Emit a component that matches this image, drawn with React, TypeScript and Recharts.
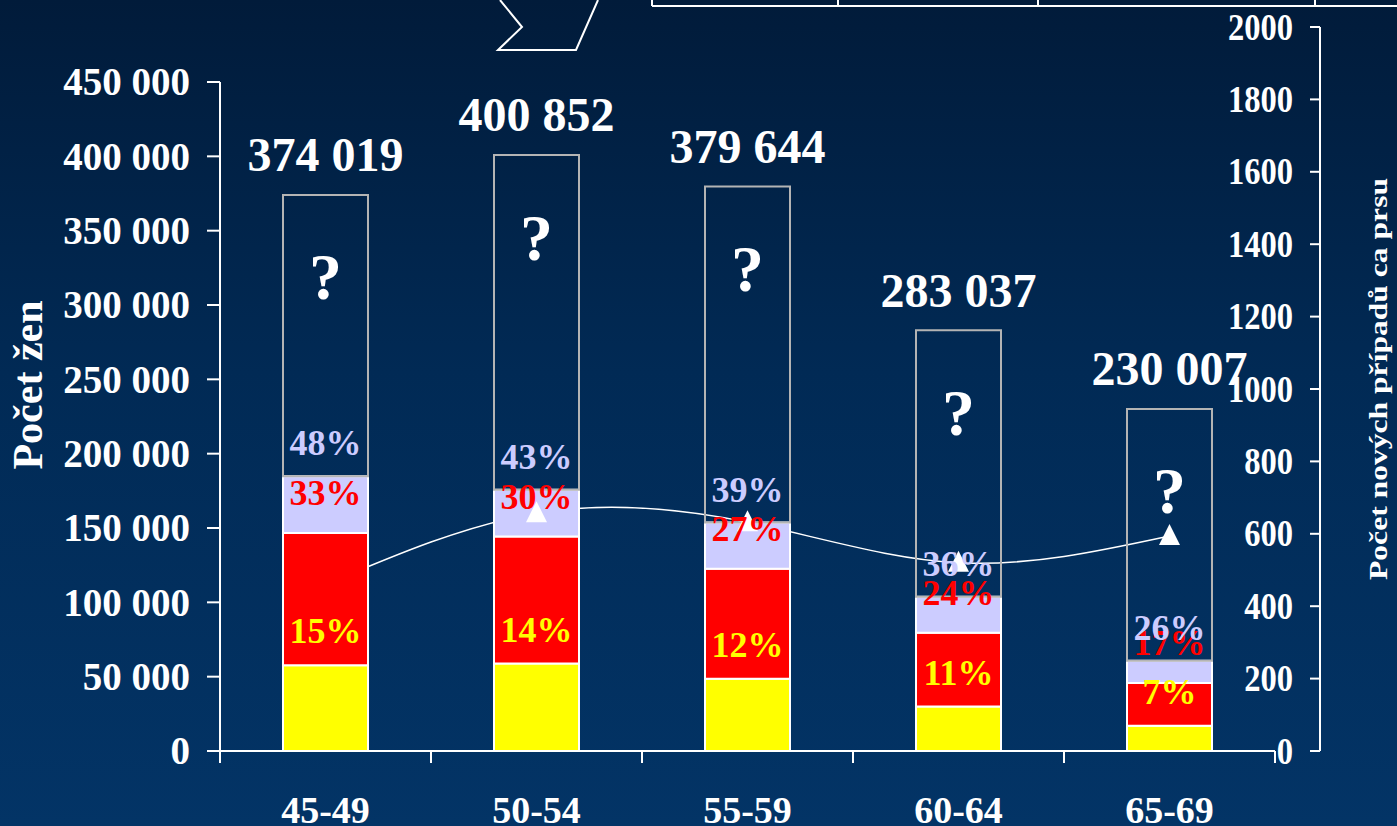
import { ComposedChart, Bar, Line, XAxis, YAxis, LabelList } from "recharts";

const ageGroups = ["45-49", "50-54", "55-59", "60-64", "65-69"];
const totalWomen = [374019, 400852, 379644, 283037, 230007];
const yellowPart = [57750, 58830, 48520, 29850, 17050];
const redPart = [88950, 85380, 74120, 49670, 28770];
const lavenderPart = [38140, 31470, 31000, 24250, 14830];
const yellowPct = ["15%", "14%", "12%", "11%", "7%"];
const redPct = ["33%", "30%", "27%", "24%", "17%"];
const lavenderPct = ["48%", "43%", "39%", "36%", "26%"];
const newCases = [460, 657, 632, 520, 594];

const leftTicks = [0, 50000, 100000, 150000, 200000, 250000, 300000, 350000, 400000, 450000];
const rightTicks = [0, 200, 400, 600, 800, 1000, 1200, 1400, 1600, 1800, 2000];

const W = 1397;
const H = 826;
const PLOT_LEFT = 220;
const PLOT_RIGHT = 1275;
const PLOT_TOP = 27;
const PLOT_BOTTOM = 751;
const BAND = (PLOT_RIGHT - PLOT_LEFT) / ageGroups.length;
const FONT = "'Liberation Serif', 'Times New Roman', serif";

const data = ageGroups.map((age, i) => ({
  age,
  yellow: yellowPart[i],
  red: redPart[i],
  lavender: lavenderPart[i],
  rest: totalWomen[i] - yellowPart[i] - redPart[i] - lavenderPart[i],
  total: totalWomen[i],
  yellowPct: yellowPct[i],
  redPct: redPct[i],
  lavenderPct: lavenderPct[i],
  cases: newCases[i],
}));

const spaced = (n: number) => String(n).replace(/\B(?=(\d{3})+(?!\d))/g, " ");

const LeftTick = ({ y, payload }: any) => (
  <g>
    <line x1={PLOT_LEFT - 13} x2={PLOT_LEFT} y1={y} y2={y} stroke="#fff" strokeWidth={2} />
    {payload.value === leftTicks[leftTicks.length - 1] && (
      <line x1={PLOT_LEFT} x2={PLOT_LEFT} y1={y} y2={PLOT_BOTTOM} stroke="#fff" strokeWidth={2} />
    )}
    <text x={190} y={y} dy="0.34em" textAnchor="end" fill="#fff" fontFamily={FONT} fontWeight="bold" fontSize={39}>
      {spaced(payload.value)}
    </text>
  </g>
);

const RightTick = ({ y, payload }: any) => (
  <g>
    <line x1={PLOT_RIGHT + 35} x2={PLOT_RIGHT + 45} y1={y} y2={y} stroke="#fff" strokeWidth={2} />
    {payload.value === rightTicks[rightTicks.length - 1] && (
      <line x1={PLOT_RIGHT + 45} x2={PLOT_RIGHT + 45} y1={y} y2={PLOT_BOTTOM} stroke="#fff" strokeWidth={2} />
    )}
    <text
      transform={`translate(${PLOT_RIGHT + 18} ${y}) scale(0.88 1)`}
      dy="0.34em"
      textAnchor="end"
      fill="#fff"
      fontFamily={FONT}
      fontWeight="bold"
      fontSize={37}
    >
      {payload.value}
    </text>
  </g>
);

const AgeTick = ({ x, payload }: any) => (
  <g>
    <line x1={x - BAND / 2} x2={x - BAND / 2} y1={PLOT_BOTTOM} y2={PLOT_BOTTOM + 12} stroke="#fff" strokeWidth={2} />
    {payload.value === ageGroups[ageGroups.length - 1] && (
      <line x1={x + BAND / 2} x2={x + BAND / 2} y1={PLOT_BOTTOM} y2={PLOT_BOTTOM + 12} stroke="#fff" strokeWidth={2} />
    )}
    <text x={x} y={810} dy="0.34em" textAnchor="middle" fill="#fff" fontFamily={FONT} fontWeight="bold" fontSize={38}>
      {payload.value}
    </text>
  </g>
);

// percentage text floating a fixed distance above a segment's top edge
const pctLabel = (color: string, lift: number) => (props: any) => {
  const { x, y, width, value } = props;
  return (
    <text
      x={x + width / 2}
      y={y - lift}
      dy="0.34em"
      textAnchor="middle"
      fill={color}
      fontFamily={FONT}
      fontWeight="bold"
      fontSize={36}
    >
      {value}
    </text>
  );
};

const totalLabel = (props: any) => {
  const { x, y, width, value } = props;
  return (
    <text x={x + width / 2} y={y - 40} dy="0.34em" textAnchor="middle" fill="#fff" fontFamily={FONT} fontWeight="bold" fontSize={48}>
      {spaced(value)}
    </text>
  );
};

const questionLabel = (props: any) => {
  const { x, y, width } = props;
  return (
    <text x={x + width / 2} y={y + 82} dy="0.34em" textAnchor="middle" fill="#fff" fontFamily={FONT} fontWeight="bold" fontSize={66}>
      ?
    </text>
  );
};

// first marker sits inside the red block in the original and is hidden by it
const TriangleDot = (props: any) => {
  const { cx, cy, index } = props;
  if (cx == null || cy == null || index === 0) return <g key={index} />;
  return (
    <polygon
      key={index}
      points={`${cx},${cy - 12} ${cx - 10.5},${cy + 9} ${cx + 10.5},${cy + 9}`}
      fill="#fff"
    />
  );
};

export default function App() {
  return (
    <div
      style={{
        position: "fixed",
        left: 0,
        top: 0,
        width: W,
        height: H,
        background: "linear-gradient(to bottom, #011b3a 0%, #012a55 45%, #033466 100%)",
        overflow: "hidden",
      }}
    >
      <ComposedChart width={W} height={H} data={data} margin={{ top: PLOT_TOP, right: 0, bottom: 0, left: 0 }} barSize={85}>
        <XAxis
          dataKey="age"
          height={H - PLOT_BOTTOM}
          axisLine={{ stroke: "#fff", strokeWidth: 2 }}
          tickLine={false}
          tick={<AgeTick />}
          interval={0}
        />
        <YAxis
          yAxisId="left"
          width={PLOT_LEFT}
          domain={[0, 487000]}
          ticks={leftTicks}
          axisLine={false}
          tickLine={false}
          tickSize={0}
          tick={<LeftTick />}
          interval={0}
        />
        <YAxis
          yAxisId="right"
          orientation="right"
          width={W - PLOT_RIGHT}
          domain={[0, 2000]}
          ticks={rightTicks}
          axisLine={false}
          tickLine={false}
          tickSize={0}
          tick={<RightTick />}
          interval={0}
        />

        <Line
          yAxisId="right"
          dataKey="cases"
          type="natural"
          stroke="#fff"
          strokeWidth={1.5}
          dot={false}
          activeDot={false}
          isAnimationActive={false}
          zIndex={250}
        />

        <Bar yAxisId="left" dataKey="yellow" stackId="w" fill="#ffff00" stroke="#fff" strokeWidth={2} isAnimationActive={false}>
          <LabelList dataKey="yellowPct" content={pctLabel("#ffff00", 34)} />
        </Bar>
        <Bar yAxisId="left" dataKey="red" stackId="w" fill="#ff0000" stroke="#fff" strokeWidth={2} isAnimationActive={false}>
          <LabelList dataKey="redPct" content={pctLabel("#ff0000", 40)} />
        </Bar>
        <Bar yAxisId="left" dataKey="lavender" stackId="w" fill="#ccccff" stroke="#fff" strokeWidth={2} isAnimationActive={false}>
          <LabelList dataKey="lavenderPct" content={pctLabel("#ccccff", 33)} />
        </Bar>
        <Bar yAxisId="left" dataKey="rest" stackId="w" fill="none" stroke="#b4b4b4" strokeWidth={2} isAnimationActive={false}>
          <LabelList dataKey="total" content={totalLabel} />
          <LabelList dataKey="total" content={questionLabel} />
        </Bar>

        <Line
          yAxisId="right"
          dataKey="cases"
          stroke="none"
          dot={TriangleDot}
          activeDot={false}
          isAnimationActive={false}
        />
      </ComposedChart>

      <svg width={W} height={H} style={{ position: "absolute", left: 0, top: 0, pointerEvents: "none" }}>
        <polyline points="500,0 522,27 498,50 576,50 598,0" fill="none" stroke="#fff" strokeWidth={2} />
        <line x1={652} x2={W} y1={6} y2={6} stroke="#fff" strokeWidth={2} />
        {[652, 838, 1038, 1315].map((x) => (
          <line key={x} x1={x} x2={x} y1={0} y2={6} stroke="#fff" strokeWidth={2} />
        ))}
        <text
          transform="translate(42 385) rotate(-90)"
          textAnchor="middle"
          fill="#fff"
          fontFamily={FONT}
          fontWeight="bold"
          fontSize={42}
        >
          Počet žen
        </text>
        <text
          transform="translate(1387 379) rotate(-90)"
          textAnchor="middle"
          textLength={402}
          lengthAdjust="spacingAndGlyphs"
          fill="#fff"
          fontFamily={FONT}
          fontWeight="bold"
          fontSize={26}
        >
          Počet nových případů ca prsu
        </text>
      </svg>
    </div>
  );
}
